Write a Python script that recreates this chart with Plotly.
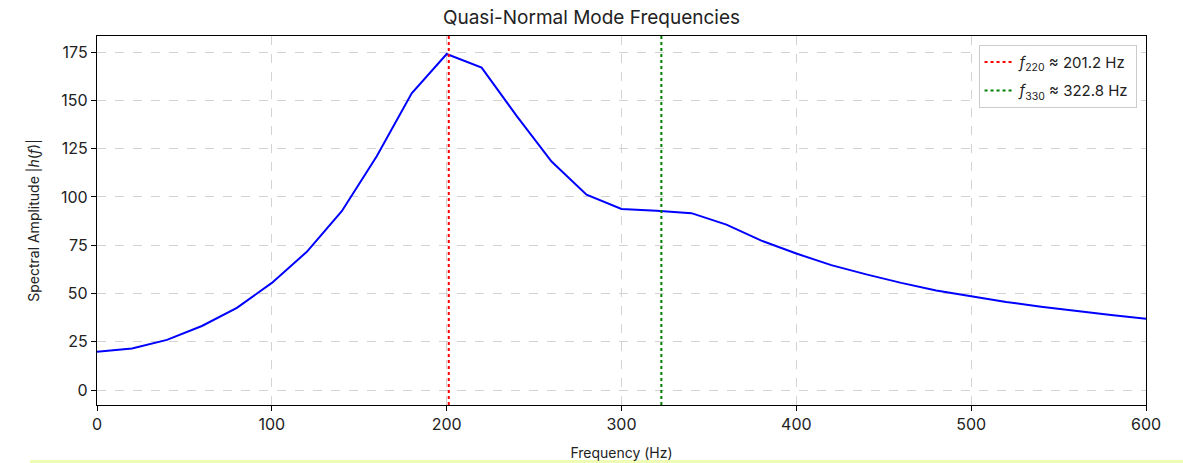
import plotly.graph_objects as go

# Spectral amplitude sampled every 20 Hz
freq_hz = [0, 20, 40, 60, 80, 100, 120, 140, 160, 180, 200, 220, 240, 260, 280, 300,
           320, 340, 360, 380, 400, 420, 440, 460, 480, 500, 520, 540, 560, 580, 600]
amplitude = [19.9, 21.5, 26.0, 33.2, 42.6, 55.5, 71.6, 92.6, 121.0, 153.6, 174.0, 166.9,
             142.0, 118.3, 101.2, 93.8, 92.9, 91.6, 85.7, 77.4, 70.7, 64.7, 59.9, 55.5,
             51.6, 48.5, 45.6, 43.2, 40.9, 38.9, 37.0]

# Quasi-normal mode frequencies
f220 = 201.2
f330 = 322.8

x_ticks = [0, 100, 200, 300, 400, 500, 600]
y_ticks = [0, 25, 50, 75, 100, 125, 150, 175]
y_range = [-7.7, 183.3]

FONT = "Inter, Roboto, sans-serif"

fig = go.Figure()

fig.add_trace(go.Scatter(
    x=freq_hz, y=amplitude, mode="lines",
    line=dict(color="#0000ff", width=2),
    showlegend=False, hoverinfo="x+y",
))

fig.add_trace(go.Scatter(
    x=[f220, f220], y=y_range, mode="lines",
    line=dict(color="#ff0000", width=2, dash="dot"),
    name=f"<i>f</i><sub>220</sub> ≈ {f220} Hz", legendgroup="m220",
))
fig.add_trace(go.Scatter(
    x=[f330, f330], y=y_range, mode="lines",
    line=dict(color="#008000", width=2, dash="dot"),
    name=f"<i>f</i><sub>330</sub> ≈ {f330} Hz", legendgroup="m330",
))

axis_common = dict(
    showline=True, linecolor="black", linewidth=1.2, mirror=True,
    ticks="outside", ticklen=5, tickcolor="black", tickwidth=1,
    showgrid=True, gridcolor="#d3d3d3", griddash="dash", gridwidth=1,
    zeroline=False, automargin=False,
    tickfont=dict(family=FONT, size=16, color="#222222"),
)

fig.update_xaxes(
    range=[0, 600], tickvals=x_ticks,
    title=dict(text="Frequency (Hz)", font=dict(family=FONT, size=14, color="#222222"), standoff=14),
    **axis_common,
)
fig.update_yaxes(
    range=y_range, tickvals=y_ticks,
    title=dict(text="Spectral Amplitude |<i>h</i>(<i>f</i>)|",
               font=dict(family=FONT, size=14, color="#222222"), standoff=18),
    **axis_common,
)

fig.update_layout(
    width=1183, height=463,
    paper_bgcolor="white", plot_bgcolor="white",
    margin=dict(l=97, r=37, t=36, b=58),
    title=dict(text="Quasi-Normal Mode Frequencies", x=0.5, xanchor="center",
               y=0.963, yanchor="middle",
               font=dict(family=FONT, size=19, color="#222222")),
    legend=dict(
        x=0.991, y=0.976, xanchor="right", yanchor="top",
        bgcolor="white", bordercolor="#cccccc", borderwidth=1,
        font=dict(family=FONT, size=15, color="#222222"),
        tracegroupgap=6,
    ),
    shapes=[dict(
        type="rect", xref="paper", yref="paper",
        x0=(30 - 97) / 1049, x1=(1183 - 97) / 1049,
        y0=-0.157, y1=-0.149,
        fillcolor="#eefcb4", line=dict(width=0), layer="below",
    )],
)

fig.write_html("out.html")
